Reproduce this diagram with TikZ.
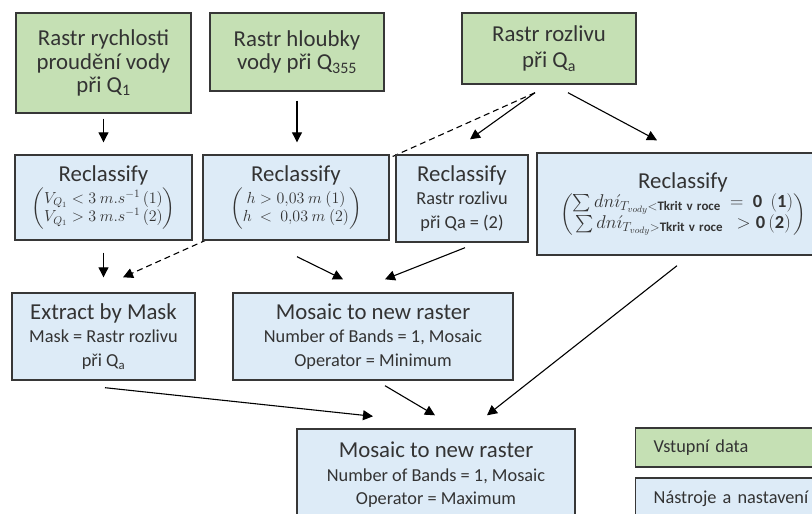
\RequirePackage{fix-cm}
\documentclass[tikz,border=0pt]{standalone}
\usepackage{amsmath}
\usepackage{fontspec}
\setmainfont{Carlito}
\usetikzlibrary{arrows.meta,backgrounds}
\definecolor{datagreen}{RGB}{197,224,180}
\definecolor{toolblue}{RGB}{221,235,247}
\definecolor{boxline}{RGB}{55,55,55}
\newcommand\boxhead{\fontsize{22.8}{23.5}\selectfont}
\newcommand\boxsub{\fontsize{18.3}{21.5}\selectfont}
\newcommand\boxmath{\fontsize{16}{18}\selectfont}
\tikzset{ data/.style = { rectangle % input raster
        , draw = boxline
        , fill = datagreen
        , line width = 1.4pt
        , text = black!80
        , font = \boxhead
        , align = center
        }
        , tool/.style = { rectangle % tool with settings
        , draw = boxline
        , fill = toolblue
        , line width = 1.4pt
        , text = black!80
        , font = \boxhead
        , align = center
        }
        }

\begin{document}
\begin{tikzpicture}[x=1pt, y=-1pt, >={Triangle[length=10pt,width=10pt]},
        edge_style/.style={draw=black, line width=1.1pt, ->},
        mask_edge_style/.style={draw=black, line width=1.1pt, dash pattern=on 6pt off 4pt, ->},
        legend_style/.style={anchor=west, minimum width=200, inner xsep=18, text width=164, align=left, font=\boxsub}]
        \clip (0,0) rectangle (812,514);

        % inputs
        \node [data, minimum width=175, minimum height=100] (g1) at (103.5,63) {Rastr rychlosti\\proudění vody\\při Q\textsubscript{1}};
        \node [data, minimum width=174, minimum height=78] (g2) at (297,52) {Rastr hloubky\\vody při Q\textsubscript{355}};
        \node [data, minimum width=174, minimum height=71] (g3) at (549,48.5) {Rastr rozlivu\\[3pt]při Q\textsubscript{a}};

        % reclassify
        \node [tool, minimum width=177, minimum height=85] (r1) at (103.5,197.5) {Reclassify\\[2pt]{\boxmath $\begin{pmatrix} V_{Q_1} < 3\ m.s^{-1}\,(1)\\ V_{Q_1} > 3\ m.s^{-1}\,(2)\end{pmatrix}$}};
        \node [tool, minimum width=186, minimum height=85] (r2) at (296,197.5) {Reclassify\\[2pt]{\boxmath $\begin{pmatrix} h > 0{,}03\ m\ (1)\\ h\ <\ 0{,}03\ m\ (2)\end{pmatrix}$}};
        \node [tool, minimum width=132, minimum height=87] (r3) at (462,198.5) {Reclassify\\{\boxsub Rastr rozlivu}\\{\boxsub při Qa = (2)}};
        \node [tool, minimum width=292, minimum height=102] (r4) at (683,204) {Reclassify\\{\fontsize{18.5}{21}\selectfont $\begin{pmatrix} \sum dn\acute{\imath}_{T_{vody}<\mathbf{Tkrit\ v\ roce}} \ = \ \mathbf{0}\ \ (\mathbf{1})\\ \sum dn\acute{\imath}_{T_{vody}>\mathbf{Tkrit\ v\ roce}}\ \ > \mathbf{0}\,(\mathbf{2})\end{pmatrix}$}};

        % processing
        \node [tool, minimum width=183, minimum height=87] (ebm) at (103.5,336.5) {Extract by Mask\\{\boxsub Mask = Rastr rozlivu}\\{\boxsub při Q\textsubscript{a}}};
        \node [tool, minimum width=280, minimum height=87] (m1) at (373,336.5) {Mosaic to new raster\\{\boxsub Number of Bands = 1, Mosaic}\\{\boxsub Operator = Minimum}};
        \node [tool, minimum width=278, minimum height=92] (m2) at (436,475) {Mosaic to new raster\\{\boxsub Number of Bands = 1, Mosaic}\\{\boxsub Operator = Maximum}};

        % legend
        \node [data, legend_style, minimum height=39] (leg1) at (635,447.5) {Vstupní data};
        \node [tool, legend_style, minimum height=42] (leg2) at (635,499) {Nástroje a nastavení};

        \begin{pgfonlayer}{background}
            \fill [white] (0,0) rectangle (812,514);
            \draw [mask_edge_style] ([shift={(-14,8)}]g3.south) -- ([shift={(19.5,-15)}]ebm.north);
        \end{pgfonlayer}
        \draw [edge_style] ([shift={(0,5)}]g1.south) -- ([shift={(0,-12)}]r1.north);
        \draw [edge_style] ([shift={(0,9)}]g2.south) -- ([shift={(1,-12)}]r2.north);
        \draw [edge_style] ([shift={(-14,8)}]g3.south) -- ([shift={(8,-15)}]r3.north);
        \draw [edge_style] ([shift={(19,8)}]g3.south) -- ([shift={(-26,-12)}]r4.north);
        \draw [edge_style] ([shift={(0,12)}]r1.south) -- ([shift={(0,-15)}]ebm.north);
        \draw [edge_style] ([shift={(1,16)}]r2.south) -- ([shift={(-30,-13)}]m1.north);
        \draw [edge_style] ([shift={(3,5)}]r3.south) -- ([shift={(12,-13)}]m1.north);
        \draw [edge_style] ([shift={(-6,10)}]r4.south) -- ([shift={(51,-13)}]m2.north);
        \draw [edge_style] ([shift={(1.5,7)}]ebm.south) -- ([shift={(-63,-12)}]m2.north);
        \draw [edge_style] ([shift={(12,5)}]m1.south) -- ([shift={(-1,-13)}]m2.north);
\end{tikzpicture}
\end{document}
